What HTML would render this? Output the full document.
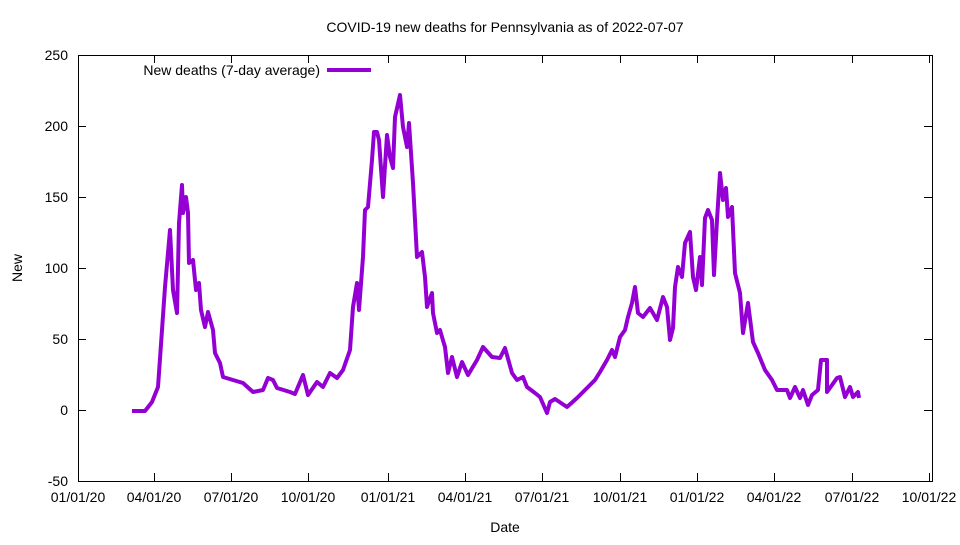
<!DOCTYPE html>
<html><head><meta charset="utf-8"><style>body{margin:0;background:#fff}</style></head><body>
<svg width="960" height="540" xmlns="http://www.w3.org/2000/svg" font-family="Liberation Sans, sans-serif" font-size="14">
<rect width="960" height="540" fill="#fff"/>
<text x="505" y="32" text-anchor="middle" font-size="14">COVID-19 new deaths for Pennsylvania as of 2022-07-07</text>
<g stroke="#000" stroke-width="1" fill="none">
<rect x="78.5" y="55.5" width="854" height="426"/>
<path d="M78 126.5h8M924 126.5h8M78 197.5h8M924 197.5h8M78 268.5h8M924 268.5h8M78 339.5h8M924 339.5h8M78 410.5h8M924 410.5h8
M154.5 481v-8M154.5 55v8M231.5 481v-8M231.5 55v8M308.5 481v-8M308.5 55v8M388.5 481v-8M388.5 55v8M465.5 481v-8M465.5 55v8M542.5 481v-8M542.5 55v8M620.5 481v-8M620.5 55v8M697.5 481v-8M697.5 55v8M774.5 481v-8M774.5 55v8M852.5 481v-8M852.5 55v8M929.5 481v-8M929.5 55v8"/>
</g>
<g text-anchor="end">
<text x="68" y="60">250</text><text x="68" y="131">200</text><text x="68" y="202">150</text><text x="68" y="273">100</text><text x="68" y="344">50</text><text x="68" y="415">0</text><text x="68" y="486">-50</text>
</g>
<g text-anchor="middle">
<text x="78" y="502">01/01/20</text><text x="154" y="502">04/01/20</text><text x="231" y="502">07/01/20</text><text x="308" y="502">10/01/20</text><text x="388" y="502">01/01/21</text><text x="465" y="502">04/01/21</text><text x="542" y="502">07/01/21</text><text x="620" y="502">10/01/21</text><text x="697" y="502">01/01/22</text><text x="774" y="502">04/01/22</text><text x="852" y="502">07/01/22</text><text x="929" y="502">10/01/22</text>
<text x="505" y="532">Date</text>
<text x="22" y="268" transform="rotate(-90 22 268)">New</text>
</g>
<text x="320" y="75" text-anchor="end">New deaths (7-day average)</text>
<line x1="327" y1="70" x2="371" y2="70" stroke="#9400d3" stroke-width="4"/>
<polyline fill="none" stroke="#9400d3" stroke-width="4" stroke-linejoin="round" points="132,411 145,411 152,402 158,387 162,330 165,287 170,230 173,290 177,313 179,223 182,185 183,213 186,197 188,213 189,263 193,260 196,290 199,283 201,310 205,327 208,312 213,330 215,353 220,363 223,377 233,380 243,383 253,392 263,390 268,378 273,380 277,388 290,392 295,394 303,375 308,395 317,382 323,387 330,373 337,378 343,370 350,350 353,307 357,283 359,310 363,257 365,210 368,207 372,160 374,132 377,132 379,140 383,197 387,135 390,157 393,168 395,117 400,95 403,127 407,147 409,123 413,183 417,257 422,252 425,277 427,307 432,293 433,313 437,333 440,330 442,337 445,347 448,373 452,357 457,377 462,362 468,375 477,360 483,347 492,357 500,358 505,348 512,373 517,380 523,377 527,387 535,393 540,397 547,413 550,402 555,399 567,407 577,398 587,388 595,380 600,372 607,360 612,350 615,357 620,337 625,330 628,317 632,303 635,287 638,313 643,317 650,308 657,320 663,297 667,307 670,340 673,328 675,287 678,267 682,277 685,243 690,232 693,277 696,290 700,257 702,285 705,218 708,210 712,220 714,275 717,220 720,173 723,200 726,188 728,217 732,207 735,273 740,293 743,333 748,303 753,342 758,353 765,370 772,380 777,390 787,390 790,398 795,387 800,398 803,390 808,405 812,395 818,390 821,360 827,360 827,392 837,378 840,377 845,397 850,387 853,397 858,392 859,398"/>
</svg>
</body></html>
